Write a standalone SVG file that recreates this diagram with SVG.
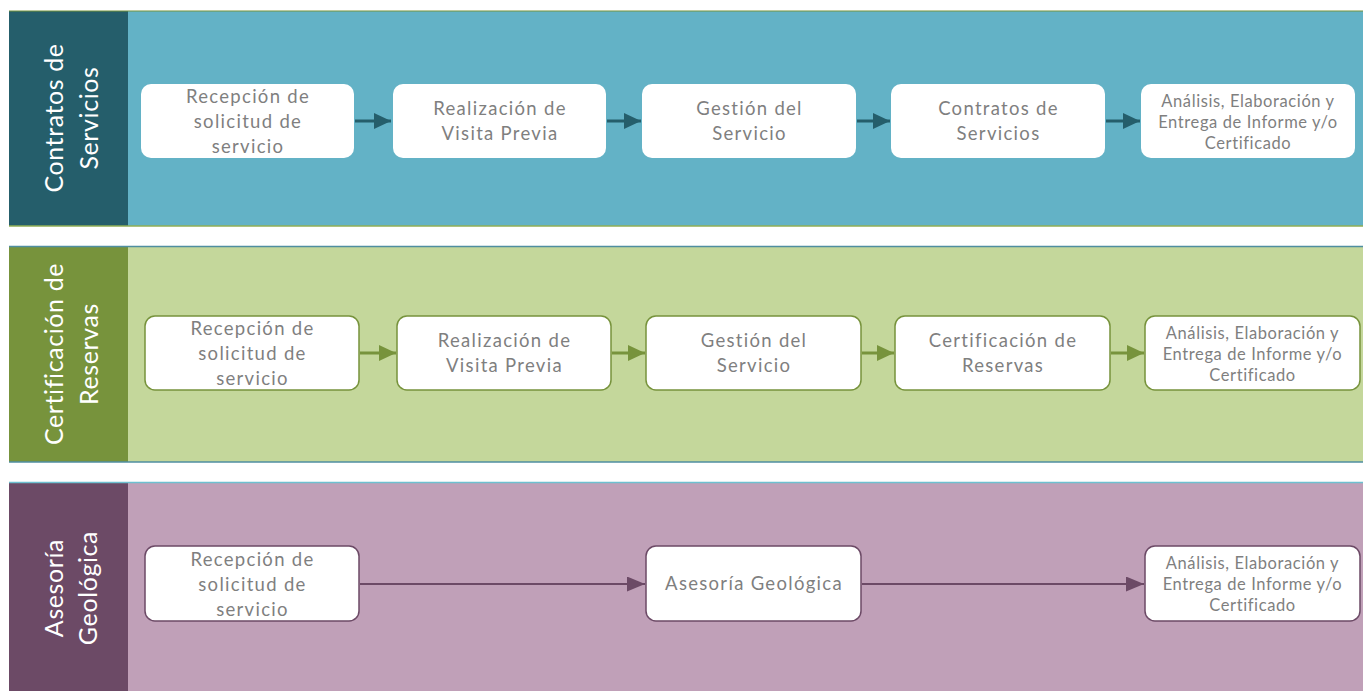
<svg xmlns="http://www.w3.org/2000/svg" width="1363" height="691" viewBox="0 0 1363 691">
<defs>
<style>
.hdr{font-family:"Lato","Open Sans",sans-serif;font-size:25px;fill:#ffffff;text-anchor:middle;letter-spacing:0.6px}
.t{font-family:"Lato","Open Sans",sans-serif;font-size:18.5px;fill:#7f7f7f;text-anchor:middle;letter-spacing:1.3px}
.ts{font-family:"Lato","Open Sans",sans-serif;font-size:16.5px;fill:#7f7f7f;text-anchor:middle;letter-spacing:0.6px}
.b1{fill:#ffffff}
.b2{fill:#ffffff;stroke:#77933c;stroke-width:1.5}
.b3{fill:#ffffff;stroke:#6c4a66;stroke-width:1.5}
.c1{stroke:#255e6b;stroke-width:3;fill:none}
.c2{stroke:#77933c;stroke-width:3;fill:none}
.c3{stroke:#6c4a66;stroke-width:2.2;fill:none}
</style>
<marker id="a1" markerUnits="userSpaceOnUse" markerWidth="17" markerHeight="16" refX="17" refY="8" orient="auto"><path d="M0,0 L17,8 L0,16 z" fill="#255e6b"/></marker>
<marker id="a2" markerUnits="userSpaceOnUse" markerWidth="17" markerHeight="16" refX="17" refY="8" orient="auto"><path d="M0,0 L17,8 L0,16 z" fill="#77933c"/></marker>
<marker id="a3" markerUnits="userSpaceOnUse" markerWidth="18" markerHeight="15" refX="18" refY="7.5" orient="auto"><path d="M0,0 L18,7.5 L0,15 z" fill="#6c4a66"/></marker>
</defs>
<rect width="1363" height="691" fill="#ffffff"/>

<g id="lane1">
<rect x="9" y="11" width="1354" height="215" fill="#63b2c6"/>
<rect x="9" y="11" width="119" height="215" fill="#255e6b"/>
<line x1="9" y1="11" x2="1363" y2="11" stroke="#77933c" stroke-width="1.2"/>
<line x1="9" y1="226" x2="1363" y2="226" stroke="#8fae55" stroke-width="1.5"/>
<text class="hdr" transform="translate(63,118) rotate(-90)">Contratos de</text>
<text class="hdr" transform="translate(98,118) rotate(-90)">Servicios</text>
</g>
<g id="lane2">
<rect x="9" y="246" width="1354" height="216" fill="#c4d79b"/>
<rect x="9" y="246" width="119" height="216" fill="#77933c"/>
<line x1="9" y1="246.5" x2="1363" y2="246.5" stroke="#4f8ea0" stroke-width="1.5"/>
<line x1="9" y1="462" x2="1363" y2="462" stroke="#4f8ea0" stroke-width="1.5"/>
<text class="hdr" transform="translate(63,354) rotate(-90)">Certificación de</text>
<text class="hdr" transform="translate(98,354) rotate(-90)">Reservas</text>
</g>
<g id="lane3">
<rect x="9" y="482" width="1354" height="209" fill="#c0a0b8"/>
<rect x="9" y="482" width="119" height="209" fill="#6c4a66"/>
<line x1="9" y1="482.5" x2="1363" y2="482.5" stroke="#6dc0d0" stroke-width="1.5"/>
<text class="hdr" transform="translate(63,588) rotate(-90)">Asesoría</text>
<text class="hdr" transform="translate(97,588) rotate(-90)">Geológica</text>
</g>

<g id="connectors">
<line class="c1" x1="355" y1="121" x2="391" y2="121" marker-end="url(#a1)"/>
<line class="c1" x1="607" y1="121" x2="641" y2="121" marker-end="url(#a1)"/>
<line class="c1" x1="857" y1="121" x2="890" y2="121" marker-end="url(#a1)"/>
<line class="c1" x1="1106" y1="121" x2="1140" y2="121" marker-end="url(#a1)"/>
<line class="c2" x1="360" y1="353" x2="396" y2="353" marker-end="url(#a2)"/>
<line class="c2" x1="612" y1="353" x2="645" y2="353" marker-end="url(#a2)"/>
<line class="c2" x1="862" y1="353" x2="894" y2="353" marker-end="url(#a2)"/>
<line class="c2" x1="1111" y1="353" x2="1144" y2="353" marker-end="url(#a2)"/>
<line class="c3" x1="360" y1="584" x2="645" y2="584" marker-end="url(#a3)"/>
<line class="c3" x1="862" y1="584" x2="1144" y2="584" marker-end="url(#a3)"/>
</g>

<g id="n1_1"><rect class="b1" x="141" y="84" width="213" height="74" rx="10"/>
<text class="t" x="248" y="103">Recepción de</text><text class="t" x="248" y="128">solicitud de</text><text class="t" x="248" y="153">servicio</text></g>
<g id="n1_2"><rect class="b1" x="393" y="84" width="213" height="74" rx="10"/>
<text class="t" x="500" y="115">Realización de</text><text class="t" x="500" y="140">Visita Previa</text></g>
<g id="n1_3"><rect class="b1" x="642" y="84" width="214" height="74" rx="10"/>
<text class="t" x="749.5" y="115">Gestión del</text><text class="t" x="749.5" y="140">Servicio</text></g>
<g id="n1_4"><rect class="b1" x="891" y="84" width="214" height="74" rx="10"/>
<text class="t" x="998.5" y="115">Contratos de</text><text class="t" x="998.5" y="140">Servicios</text></g>
<g id="n1_5"><rect class="b1" x="1141" y="84" width="214" height="74" rx="10"/>
<text class="ts" x="1248" y="107">Análisis, Elaboración y</text><text class="ts" x="1248" y="128">Entrega de Informe y/o</text><text class="ts" x="1248" y="149">Certificado</text></g>

<g id="n2_1"><rect class="b2" x="145" y="316" width="214" height="74" rx="10"/>
<text class="t" x="252.5" y="335">Recepción de</text><text class="t" x="252.5" y="360">solicitud de</text><text class="t" x="252.5" y="385">servicio</text></g>
<g id="n2_2"><rect class="b2" x="397" y="316" width="214" height="74" rx="10"/>
<text class="t" x="504.5" y="347">Realización de</text><text class="t" x="504.5" y="372">Visita Previa</text></g>
<g id="n2_3"><rect class="b2" x="646" y="316" width="215" height="74" rx="10"/>
<text class="t" x="754" y="347">Gestión del</text><text class="t" x="754" y="372">Servicio</text></g>
<g id="n2_4"><rect class="b2" x="895" y="316" width="215" height="74" rx="10"/>
<text class="t" x="1003" y="347">Certificación de</text><text class="t" x="1003" y="372">Reservas</text></g>
<g id="n2_5"><rect class="b2" x="1145" y="316" width="215" height="74" rx="10"/>
<text class="ts" x="1252.5" y="339">Análisis, Elaboración y</text><text class="ts" x="1252.5" y="360">Entrega de Informe y/o</text><text class="ts" x="1252.5" y="381">Certificado</text></g>

<g id="n3_1"><rect class="b3" x="145" y="546" width="214" height="75" rx="10"/>
<text class="t" x="252.5" y="566">Recepción de</text><text class="t" x="252.5" y="591">solicitud de</text><text class="t" x="252.5" y="616">servicio</text></g>
<g id="n3_2"><rect class="b3" x="646" y="546" width="215" height="75" rx="10"/>
<text class="t" x="754" y="590">Asesoría Geológica</text></g>
<g id="n3_3"><rect class="b3" x="1145" y="546" width="215" height="75" rx="10"/>
<text class="ts" x="1252.5" y="569">Análisis, Elaboración y</text><text class="ts" x="1252.5" y="590">Entrega de Informe y/o</text><text class="ts" x="1252.5" y="611">Certificado</text></g>
</svg>
